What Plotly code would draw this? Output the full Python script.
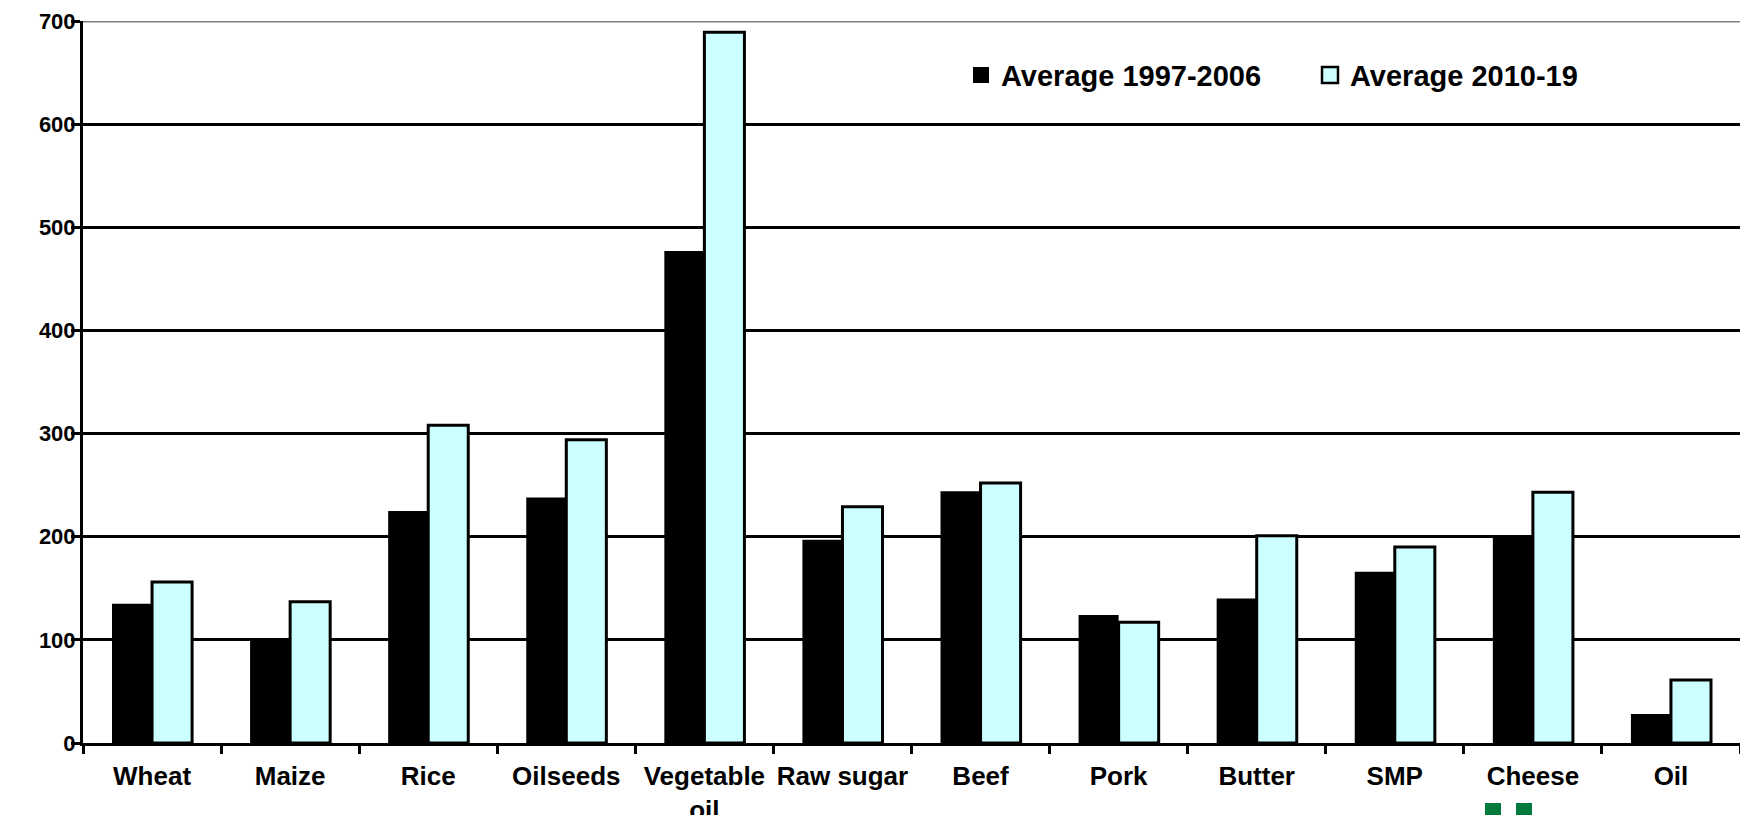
import plotly.graph_objects as go

categories = ["Wheat", "Maize", "Rice", "Oilseeds", "Vegetable<br>oil", "Raw sugar",
              "Beef", "Pork", "Butter", "SMP", "Cheese", "Oil"]
avg_1997_2006 = [135, 101, 225, 238, 477, 197, 244, 124, 140, 166, 201, 28]
avg_2010_19 = [156, 137, 308, 294, 689, 229, 252, 117, 201, 190, 243, 61]
y_ticks = [0, 100, 200, 300, 400, 500, 600, 700]
series_names = ["Average 1997-2006", "Average 2010-19"]

FONT = "Liberation Sans, Arial, sans-serif"
W, H = 1740, 815
L, R, T, B = 83, 0, 21, 72
PW, PH = W - L - R, H - T - B


def px_x(x):
    return (x - L) / PW


def px_y(y):
    return (H - B - y) / PH


fig = go.Figure()
fig.add_trace(go.Bar(
    x=categories, y=avg_1997_2006, name=series_names[0], showlegend=False,
    marker=dict(color="#000000", line=dict(color="#000000", width=0)),
))
fig.add_trace(go.Bar(
    x=categories, y=avg_2010_19, name=series_names[1], showlegend=False,
    marker=dict(color="#CCFFFF", line=dict(color="#000000", width=3)),
))
# legend entries with larger square swatches
fig.add_trace(go.Scatter(
    x=[categories[0]], y=[None], mode="markers", name=series_names[0],
    marker=dict(symbol="square", size=18, color="#000000", line=dict(width=0)),
))
fig.add_trace(go.Scatter(
    x=[categories[0]], y=[None], mode="markers", name=series_names[1],
    marker=dict(symbol="square", size=16, color="#CCFFFF", line=dict(color="#000000", width=2.5)),
))

fig.update_layout(
    width=W, height=H,
    margin=dict(l=L, r=R, t=T, b=B),
    paper_bgcolor="white", plot_bgcolor="white",
    barmode="group", bargap=0.42, bargroupgap=0,
    font=dict(family=FONT, size=25, color="#000000"),
    showlegend=True,
    legend=dict(
        orientation="h", x=px_x(961), y=0.925, xanchor="left", yanchor="middle",
        font=dict(family=FONT, size=29, color="#000000", weight="bold"),
        bgcolor="rgba(0,0,0,0)", entrywidth=304, traceorder="normal",
    ),
    xaxis=dict(
        type="category", range=[-0.5, 11.5], automargin=False, tickangle=0,
        showline=True, linecolor="#000000", linewidth=3,
        ticks="outside", tickson="boundaries", ticklen=8, tickwidth=2.5, tickcolor="#000000",
        tickfont=dict(family=FONT, size=26, color="#000000", weight="bold"),
        showgrid=False, ticklabelstandoff=8,
    ),
    yaxis=dict(
        range=[0, 700], tickvals=y_ticks, automargin=False,
        showline=True, linecolor="#000000", linewidth=3,
        ticks="outside", ticklen=9, tickwidth=2.5, tickcolor="#000000",
        tickfont=dict(family=FONT, size=22, color="#000000", weight="bold"),
        showgrid=True, gridcolor="#000000", gridwidth=2.5,
        zeroline=False, ticklabelstandoff=-9,
    ),
    shapes=[
        dict(type="line", xref="paper", yref="y", x0=0, x1=1, y0=700, y1=700,
             line=dict(color="#808080", width=3), layer="above"),
        dict(type="rect", xref="paper", yref="paper",
             x0=px_x(1485), x1=px_x(1501), y0=px_y(803), y1=px_y(820),
             fillcolor="#007A3D", line=dict(width=0)),
        dict(type="rect", xref="paper", yref="paper",
             x0=px_x(1516), x1=px_x(1532), y0=px_y(803), y1=px_y(820),
             fillcolor="#007A3D", line=dict(width=0)),
    ],
)

fig.write_html(
    "out.html",
    config={"displayModeBar": False},
    post_script="document.body.style.margin='0';document.body.style.overflow='hidden';",
)
